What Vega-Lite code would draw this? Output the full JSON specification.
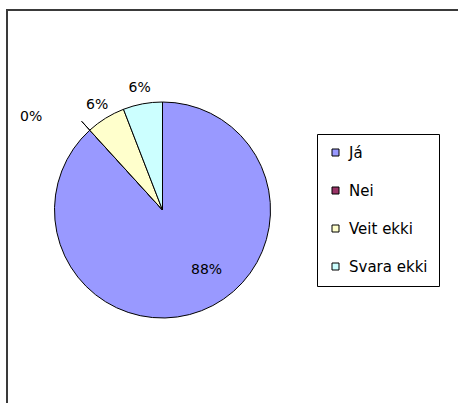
{
  "$schema": "https://vega.github.io/schema/vega-lite/v6.json",
  "autosize": "none",
  "width": 455,
  "height": 397,
  "padding": {"left": 7, "top": 10, "right": -4, "bottom": -4},
  "background": "white",
  "view": {"stroke": "#3a3a3a", "strokeWidth": 2, "fill": "white"},
  "config": {
    "font": "DejaVu Sans"
  },
  "data": {
    "values": [
      {"answer": "Já", "count": 15, "label": "88%", "idx": 1},
      {"answer": "Nei", "count": 0, "label": "0%", "idx": 2},
      {"answer": "Veit ekki", "count": 1, "label": "6%", "idx": 3},
      {"answer": "Svara ekki", "count": 1, "label": "6%", "idx": 4}
    ]
  },
  "encoding": {
    "theta": {"field": "count", "type": "quantitative", "stack": true},
    "order": {"field": "idx", "type": "quantitative"}
  },
  "layer": [
    {
      "mark": {"type": "arc", "outerRadius": 108, "x": 155.5, "y": 200, "stroke": "#000000", "strokeWidth": 1},
      "encoding": {
        "color": {
          "field": "answer",
          "type": "nominal",
          "scale": {
            "domain": ["Já", "Nei", "Veit ekki", "Svara ekki"],
            "range": ["#9999FF", "#993366", "#FFFFCC", "#CCFFFF"]
          },
          "legend": {
            "title": null,
            "orient": "none",
            "legendX": 310,
            "legendY": 124,
            "strokeColor": "#000000",
            "fillColor": "#ffffff",
            "padding": 11,
            "rowPadding": 22,
            "labelFontSize": 15,
            "labelColor": "#000000",
            "labelOffset": 6,
            "symbolType": "square",
            "symbolSize": 49,
            "symbolStrokeColor": "#000000",
            "symbolStrokeWidth": 1,
            "symbolOpacity": 1
          }
        }
      }
    },
    {
      "mark": {"type": "arc", "innerRadius": 108, "outerRadius": 120, "x": 155.5, "y": 200, "fill": null, "strokeWidth": 1},
      "encoding": {
        "stroke": {"condition": {"test": "datum.answer === 'Nei'", "value": "#000000"}, "value": null}
      }
    },
    {
      "mark": {"type": "text", "radius": 75, "x": 155.5, "y": 200, "dx": 17, "dy": -10, "fontSize": 14, "color": "#000000"},
      "encoding": {
        "text": {"condition": {"test": "datum.answer === 'Já'", "field": "label"}, "value": ""}
      }
    },
    {
      "mark": {"type": "text", "radius": 124, "x": 155.5, "y": 200, "fontSize": 14, "color": "#000000"},
      "encoding": {
        "text": {"condition": {"test": "datum.answer === 'Veit ekki' || datum.answer === 'Svara ekki'", "field": "label"}, "value": ""}
      }
    },
    {
      "mark": {"type": "text", "radius": 140, "x": 155.5, "y": 200, "dx": -37, "dy": 10, "fontSize": 14, "color": "#000000", "align": "center"},
      "encoding": {
        "text": {"condition": {"test": "datum.answer === 'Nei'", "field": "label"}, "value": ""}
      }
    }
  ]
}
